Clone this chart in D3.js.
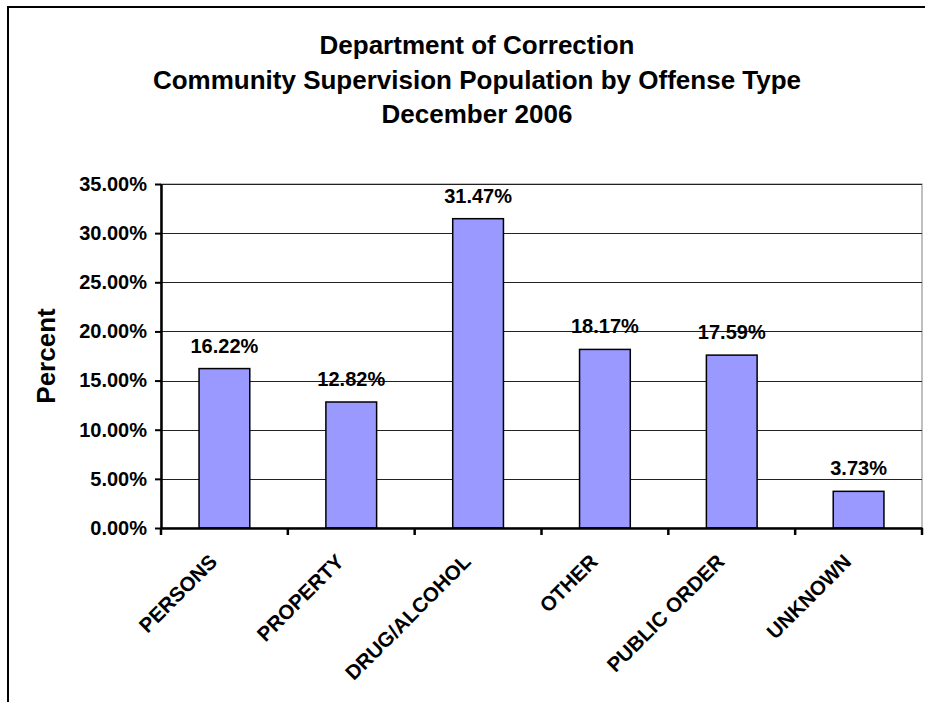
<!DOCTYPE html>
<html>
<head>
<meta charset="utf-8">
<script src="https://cdn.jsdelivr.net/npm/d3@7"></script>
<style>
  body { margin: 0; background: #fff; }
  text { font-family: "Liberation Sans", Arial, sans-serif; font-weight: bold; fill: #000; }
</style>
</head>
<body>
<div class="chart"></div>
<script>
const categories = ["PERSONS", "PROPERTY", "DRUG/ALCOHOL", "OTHER", "PUBLIC ORDER", "UNKNOWN"];
const percents = [0.1622, 0.1282, 0.3147, 0.1817, 0.1759, 0.0373];
const yTicks = [0, 0.05, 0.10, 0.15, 0.20, 0.25, 0.30, 0.35];
const titleLines = ["Department of Correction", "Community Supervision Population by Offense Type", "December 2006"];

const width = 925, height = 702;
const margin = {top: 184, right: 3, bottom: 174, left: 161};

const svg = d3.select(".chart")
  .append("svg")
    .attr("width", width)
    .attr("height", height);

// outer chart border (cropped on right and bottom)
svg.append("rect")
  .attr("x", 8).attr("y", 7)
  .attr("width", 1000).attr("height", 1000)
  .attr("fill", "#fff")
  .attr("stroke", "#000")
  .attr("stroke-width", 2);

const x = d3.scaleBand()
  .domain(categories)
  .range([margin.left, width - margin.right])
  .paddingInner(0.6)
  .paddingOuter(0.3);

const y = d3.scaleLinear()
  .domain([0, 0.35])
  .range([height - margin.bottom, margin.top]);

// title
svg.append("g")
  .selectAll("text")
  .data(titleLines)
  .join("text")
    .attr("x", 477)
    .attr("y", (d, i) => 54 + i * 34.5)
    .attr("text-anchor", "middle")
    .attr("font-size", 26)
    .text(d => d);

// plot area border
svg.append("rect")
  .attr("x", margin.left)
  .attr("y", y(0.35))
  .attr("width", width - margin.right - margin.left)
  .attr("height", y(0) - y(0.35))
  .attr("fill", "#fff")
  .attr("stroke", "#808080")
  .attr("stroke-width", 1);

// gridlines
svg.append("g")
  .selectAll("line")
  .data(yTicks.slice(1))
  .join("line")
    .attr("x1", margin.left)
    .attr("x2", width - margin.right)
    .attr("y1", d => Math.round(y(d)) + 0.5)
    .attr("y2", d => Math.round(y(d)) + 0.5)
    .attr("stroke", "#222")
    .attr("stroke-width", 1);

// bars
svg.append("g")
  .selectAll("rect")
  .data(percents)
  .join("rect")
    .attr("x", (d, i) => x(categories[i]))
    .attr("y", d => y(d))
    .attr("width", x.bandwidth())
    .attr("height", d => y(0) - y(d))
    .attr("fill", "#9999ff")
    .attr("stroke", "#000")
    .attr("stroke-width", 1.5);

// value labels
svg.append("g")
  .selectAll("text")
  .data(percents)
  .join("text")
    .attr("x", (d, i) => x(categories[i]) + x.bandwidth() / 2)
    .attr("y", d => y(d) - 16)
    .attr("text-anchor", "middle")
    .attr("font-size", 20)
    .text(d => d3.format(".2%")(d));

// y axis
const yAxis = g => g
  .attr("transform", `translate(${margin.left},0)`)
  .call(d3.axisLeft(y).tickValues(yTicks).tickFormat(d3.format(".2%")).tickSize(6).tickSizeOuter(0))
  .call(g => g.select(".domain").attr("stroke-width", 2.5))
  .call(g => g.selectAll(".tick line").attr("stroke-width", 2))
  .call(g => g.selectAll(".tick text")
    .attr("x", -14)
    .attr("font-size", 20)
    .attr("font-family", null));

// x axis
const xAxis = g => g
  .attr("transform", `translate(0,${height - margin.bottom})`)
  .call(d3.axisBottom(x).tickSize(0).tickSizeOuter(0))
  .call(g => g.select(".domain").attr("stroke-width", 2.5))
  .call(g => g.selectAll(".tick text")
    .attr("font-size", 20.5)
    .attr("font-family", null)
    .attr("text-anchor", "end")
    .attr("transform", "translate(-6,35) rotate(-45)")
    .attr("y", 0)
    .attr("dy", 0));

svg.append("g").call(yAxis);
svg.append("g").call(xAxis);

// category boundary ticks on x axis
svg.append("g")
  .selectAll("line")
  .data(categories.concat([null]))
  .join("line")
    .attr("x1", (d, i) => i < categories.length ? x(d) - x.step() * 0.3 : width - margin.right)
    .attr("x2", (d, i) => i < categories.length ? x(d) - x.step() * 0.3 : width - margin.right)
    .attr("y1", y(0))
    .attr("y2", y(0) + 7)
    .attr("stroke", "#000")
    .attr("stroke-width", 2.5);

// y axis title
svg.append("text")
  .attr("transform", "translate(55,356) rotate(-90)")
  .attr("text-anchor", "middle")
  .attr("font-size", 26)
  .text("Percent");
</script>
</body>
</html>
